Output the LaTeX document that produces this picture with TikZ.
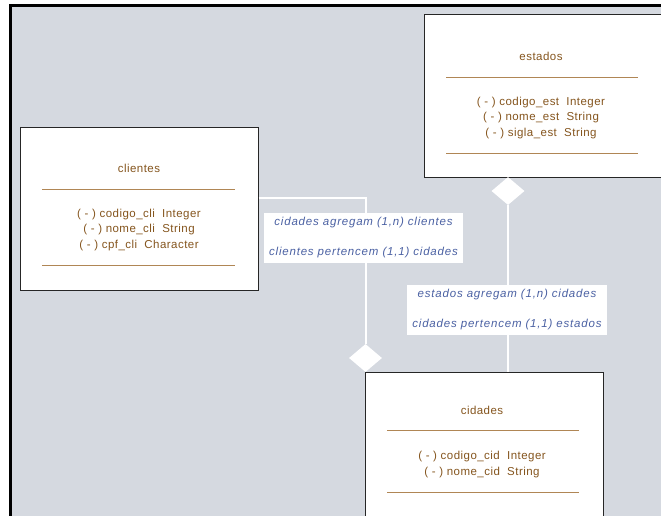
\documentclass[tikz,border=0pt]{standalone}
\usepackage{fontspec}
\setmainfont{Liberation Sans}
\newfontfamily\relfont[LetterSpace=7]{Liberation Sans}
\newfontfamily\boxfont[LetterSpace=4]{Liberation Sans}
\usetikzlibrary{shapes.geometric}
\definecolor{bgray}{HTML}{D5D9E0}
\definecolor{brn}{HTML}{85551E}
\definecolor{tan}{HTML}{B08655}
\definecolor{lblue}{HTML}{4B61A3}
\begin{document}
\begin{tikzpicture}[
	x=1pt, y=-1pt,
	font=\boxfont\fontsize{11.5}{15.5}\selectfont,
	classbox/.style={
		rectangle,
		draw=black!85,
		line width=1pt,
		fill=white,
		minimum width=238pt,
		minimum height=163pt
	},
	title/.style={
		text=brn,
		inner sep=0pt
	},
	attrs/.style={
		text=brn,
		align=center,
		inner sep=0pt
	},
	sep/.style={
		draw=tan,
		line width=1pt
	},
	conn/.style={
		draw=white,
		line width=2pt
	},
	agg/.style={
		diamond,
		fill=white,
		inner sep=0pt,
		minimum width=33pt,
		minimum height=28pt
	},
	rel/.style={
		rectangle,
		fill=white,
		align=center,
		text=lblue,
		font=\relfont\fontsize{11.5}{12}\selectfont\itshape,
		minimum width=199pt,
		minimum height=50pt
	},
]

\useasboundingbox (0,0) rectangle (661,515);
\clip (0,0) rectangle (661,515);

% Background
\fill[bgray] (10,5) rectangle (670,525);
\draw[black, line width=3pt] (10,530) -- (10,5) -- (670,5);

% Classes
\node[classbox] (clientes) at (139,208.5) {};
\node[title] (tcli) at (139,168) {clientes};
\draw[sep] (42,189) -- (235,189);
\node[attrs] (acli) at (139,230) {( - ) codigo\_cli\ \ Integer\\( - ) nome\_cli\ \ String\\( - ) cpf\_cli\ \ Character};
\draw[sep] (42,265) -- (235,265);

\node[classbox] (estados) at (543,96) {};
\node[title] (test) at (541,56) {estados};
\draw[sep] (446,77) -- (638,77);
\node[attrs] (aest) at (541,118) {( - ) codigo\_est\ \ Integer\\( - ) nome\_est\ \ String\\( - ) sigla\_est\ \ String};
\draw[sep] (446,153) -- (638,153);

\node[classbox] (cidades) at (484,453.5) {};
\node[title] (tcid) at (482,410) {cidades};
\draw[sep] (387,430) -- (579,430);
\node[attrs] (acid) at (482,464.5) {( - ) codigo\_cid\ \ Integer\\( - ) nome\_cid\ \ String};
\draw[sep] (387,492) -- (579,492);

% Aggregations
\node[agg] (dcli) at (365.5,358) {};
\node[agg] (dest) at (508,191) {};

\draw[conn] ([yshift=10.5pt]clientes.east) -| (dcli.north);
\draw[conn] (dest.south) -- (dest.south |- cidades.north);

% Role labels
\node[rel] (rcli) at (363.5,238) {cidades agregam (1,n) clientes\\[18pt]clientes pertencem (1,1) cidades};
\node[rel, minimum width=200pt] (rest) at (507,310) {estados agregam (1,n) cidades\\[18pt]cidades pertencem (1,1) estados};

\end{tikzpicture}
\end{document}
